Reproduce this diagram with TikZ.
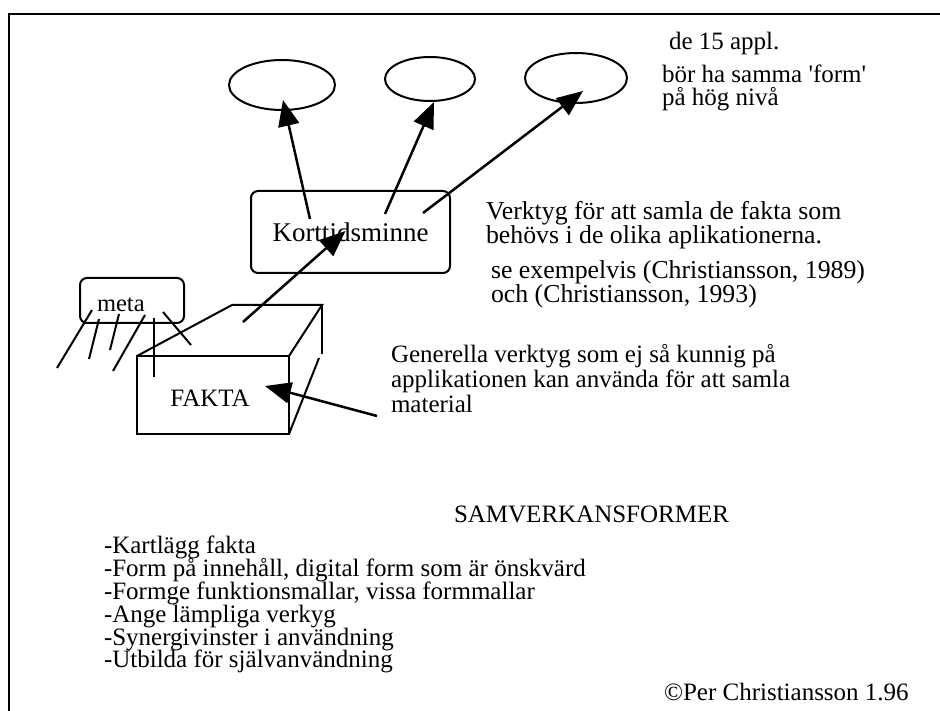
\documentclass[tikz,border=0pt]{standalone}
\usepackage{fontspec}
\setmainfont{Liberation Serif}
\usetikzlibrary{arrows.meta,shapes.geometric}
\lineskiplimit=-100pt

\begin{document}
\begin{tikzpicture}
    [x=1pt,y=-1pt,line width=2pt,
     every node/.style={font=\fontsize{25}{24}\selectfont,inner sep=0pt},
     oval/.style={draw,ellipse},
     rbox/.style={draw,rounded corners=7pt},
     pil/.style={line width=2.5pt,-{Triangle[length=26pt,width=21pt]}},
     txt/.style={anchor=base west,align=left,font=\fontsize{25}{25}\selectfont},
     stor/.style={anchor=base west,align=left,font=\fontsize{25.8}{24.5}\selectfont},
     smal/.style={anchor=base west,align=left,font=\fontsize{25}{23}\selectfont}]
    \useasboundingbox (0,0) rectangle (940,711);
    \draw (9,711) -- (9,14) -- (940,14);

    \node[oval,minimum width=106pt,minimum height=50pt] (e1) at (282,85) {};
    \node[oval,minimum width=90pt,minimum height=44pt] (e2) at (430,79) {};
    \node[oval,minimum width=102pt,minimum height=50pt] (e3) at (576,78) {};

    \node[rbox,minimum width=199pt,minimum height=82pt,font=\fontsize{27}{24}\selectfont] (korttid) at (350.5,232) {Korttidsminne};
    \node[rbox,minimum width=104pt,minimum height=45pt] (meta) at (132,300.5) {};
    \node[anchor=base west,font=\fontsize{24.5}{24}\selectfont] (metatext) at (96,312) {meta};

    \draw (137,356) rectangle (289,434);
    \draw (137,356) -- (232,305) -- (322,305) -- (289,356);
    \draw (322,305) -- (322,354);
    \draw (319,358) -- (289,434);
    \node (fakta) at (210,398) {FAKTA};

    \draw (92,310) -- (57,368);
    \draw (99,319) -- (89,359);
    \draw (119,314) -- (110,350);
    \draw (145,315) -- (113,371);
    \draw (154,318) -- (154,377);
    \draw (163,312) -- (191,345);

    \coordinate (k1) at (310,219);
    \coordinate (k2) at (385,214);
    \coordinate (k3) at (423,213);
    \coordinate (f1) at (243,322);
    \coordinate (g1) at (377,416);
    \draw[pil] (k1) -- ([xshift=1pt,yshift=11pt]e1.south);
    \draw[pil] (k2) -- ([xshift=4pt]e2.south);
    \draw[pil] (k3) -- ([xshift=7pt,yshift=13pt]e3.south);
    \draw[pil] (f1) -- ([xshift=-5pt,yshift=1pt]korttid.center);
    \draw[pil] (g1) -- ([xshift=55pt,yshift=12pt]fakta.center);

    \node[smal] (appl) at (668,50) {de 15 appl.};
    \node[smal] (form) at (661,106) {bör ha samma \textquotesingle form\textquotesingle\\på hög nivå};

    \node[stor] (verk) at (485,244) {Verktyg för att samla de fakta som\\behövs i de olika aplikationerna.};
    \node[stor] (se) at (490,303) {se exempelvis (Christiansson, 1989)\\och (Christiansson, 1993)};
    \node[txt] (gen) at (390,412) {Generella verktyg som ej så kunnig på\\applikationen kan använda för att samla\\material};

    \node[smal] (samv) at (453,522) {SAMVERKANSFORMER};
    \foreach \t [count=\i] in {-Kartlägg fakta,{-Form på innehåll, digital form som är önskvärd},{-Formge funktionsmallar, vissa formmallar},-Ange lämpliga verkyg,-Synergivinster i användning,-Utbilda för självanvändning}
      \node[smal] (punkt\i) at (103,531+22.8*\i) {\t};
    \node[smal] (copy) at (663,700) {©Per Christiansson 1.96};
\end{tikzpicture}
\end{document}
